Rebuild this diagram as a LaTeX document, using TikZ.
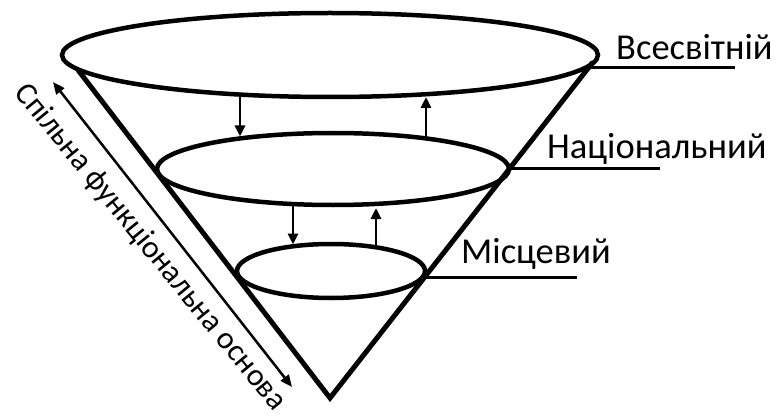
\documentclass[tikz,border=0pt]{standalone}
\usepackage{fontspec}
\setmainfont{Carlito}
\usetikzlibrary{arrows.meta}
\begin{document}
\begin{tikzpicture}[x=1pt,y=-1pt,
 ring/.style={line width=4.5pt},
 cone/.style={line width=5pt, line join=miter},
 flow/.style={line width=2.8pt,-{Triangle[length=11pt,width=10pt]}},
 lvl/.style={anchor=base west, font=\fontsize{36.5}{40}\selectfont, inner sep=0pt},
 uline/.style={line width=3pt},
 base/.style={line width=2.5pt,{Triangle[length=12pt,width=10pt]}-{Triangle[length=12pt,width=10pt]}}]
\useasboundingbox (0,0) rectangle (776,417);
% cone
\coordinate (apex) at (330,398);
\coordinate (cl) at (78,70);
\coordinate (cr) at (593,62);
\draw[cone] (cl) -- (apex) -- (cr);
% rings
\draw[ring] (330,55) ellipse [x radius=268, y radius=42];
\draw[ring] (333,169) ellipse [x radius=176, y radius=36];
\draw[ring] (331,271) ellipse [x radius=94, y radius=27];
% flows between levels
\coordinate (a1s) at (240,96);  \coordinate (a1e) at (240,136.5);
\coordinate (a2s) at (426,137); \coordinate (a2e) at (426,97);
\coordinate (a3s) at (293,206); \coordinate (a3e) at (293,244.5);
\coordinate (a4s) at (376,246); \coordinate (a4e) at (376,208);
\draw[flow] (a1s) -- (a1e);
\draw[flow] (a2s) -- (a2e);
\draw[flow] (a3s) -- (a3e);
\draw[flow] (a4s) -- (a4e);
% labels
\coordinate (u1s) at (589,68);  \coordinate (u1e) at (735,68);
\coordinate (u2s) at (509,168); \coordinate (u2e) at (660,168);
\coordinate (u3s) at (426,277); \coordinate (u3e) at (577,277);
\draw[uline] (u1s) -- (u1e);
\draw[uline] (u2s) -- (u2e);
\draw[uline] (u3s) -- (u3e);
\node[lvl] (t1) at (616,60) {Всесвітній};
\node[lvl] (t2) at (547,158) {Національний};
\node[lvl] (t3) at (461,263) {Місцевий};
% common basis
\coordinate (d1) at (53,82);
\coordinate (d2) at (292,387);
\draw[base] (d1) -- (d2);
\node[rotate=-50.8, font=\fontsize{31.5}{34}\selectfont, inner sep=0pt] (tb) at (150,247.5) {Спільна функціональна основа};
\end{tikzpicture}
\end{document}
